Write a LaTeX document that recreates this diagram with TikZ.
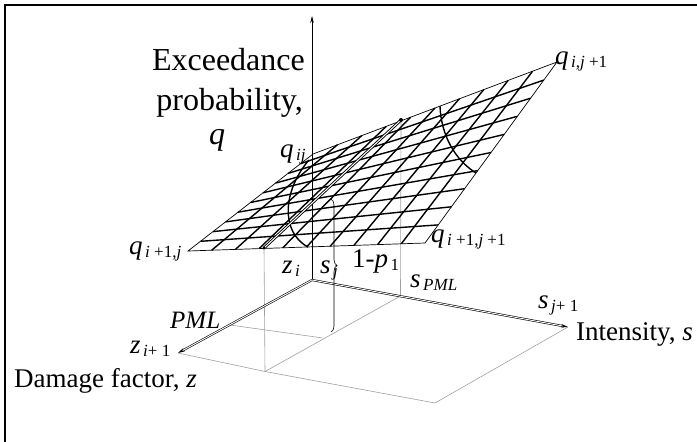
\documentclass[tikz,border=0pt]{standalone}
\usepackage{fontspec}
\setmainfont{Liberation Serif}
\usetikzlibrary{calc,arrows.meta,decorations.pathreplacing}
\newcommand{\lbl}[2]{\textit{#1}\hspace{2.5pt}\raisebox{-3pt}{\fontsize{17}{17}\selectfont #2}}
\begin{document}
\begin{tikzpicture}[x=1pt,y=-1pt,
  gl/.style={gray!75, line width=0.6pt},
  meshline/.style={line width=1.4pt, black},
  edgeline/.style={line width=0.7pt, black},
  dbl/.style={double=white, double distance=0.9pt, line width=0.6pt},
  dblgray/.style={draw=gray!80, double=white, double distance=1.2pt, line width=0.5pt},
  big/.style={font=\fontsize{32}{38}\selectfont, inner sep=0pt},
  lab/.style={font=\fontsize{27}{30}\selectfont, inner sep=0pt, anchor=base west},
  tip/.style={-{Stealth[length=7pt,width=3.5pt]}},
]
\useasboundingbox (0,0) rectangle (697,442);
\draw[line width=2.5pt] (5,442) -- (5,5) -- (697,5);

% key points
\coordinate (O) at (312,280);
\coordinate (Qtop) at (312,16);
\coordinate (Zt) at (178,353);
\coordinate (St) at (568,327);
\coordinate (B) at (265,371.5);
\coordinate (C) at (435,403);
\coordinate (P) at (400.5,296);
\coordinate (ZP) at (230,325);
\coordinate (D) at (323,338);
\coordinate (L) at (188,251);
\coordinate (R) at (425,243);
\coordinate (A) at (313,154);
\coordinate (Q2) at (557,62);
\coordinate (F) at (264,248);
\coordinate (T) at (401,120);
\coordinate (Dt) at (323,197);

% ground plane
\draw[gl] (Zt) -- (B) -- (C) -- (St);
\draw[gl] (ZP) -- (D);
\draw[gl] (B) -- (P);

% verticals
\draw[gl] (F) -- (B);
\draw[gl] (T) -- (P);
\draw[dblgray] (Dt) -- (D);

% axes
\draw[line width=0.6pt, tip] (O) -- (Qtop);
\draw[dbl, tip] (O) -- (Zt);
\draw[dbl, tip] (O) -- (St);

% mesh
\foreach \k in {1,...,9} {
  \draw[meshline] ($(L)!\k/10!(R)$) -- ($(A)!\k/10!(Q2)$);
  \draw[meshline] ($(L)!\k/10!(A)$) -- ($(R)!\k/10!(Q2)$);
}
\draw[edgeline] (L) -- (R) -- (Q2) -- (A) -- cycle;
\draw[meshline] (309,160) .. controls (283,190) and (280,232) .. (308,247);
\draw[meshline] (440,106) .. controls (441,135) and (455,160) .. (476,173);

% PML line on surface
\draw[double=white, double distance=1pt, line width=0.9pt] (F) -- (T);
\fill (T) circle (2);
\fill (F) circle (1.6);

% brace
\draw[decorate, decoration={brace, amplitude=6pt}, line width=0.6pt] (331,199) -- (331,332);

% labels
\node[big, anchor=base east] (ex) at (305,70) {Exceedance};
\node[big, anchor=base east] (pr) at (303,110) {probability,};
\node[big, anchor=base west] (qq) at (209,144) {\textit{q}};
\node[lab] (qij) at (280,157) {\lbl{q}{\textit{ij}}};
\node[lab] (qij1) at (555,64) {\lbl{q}{\textit{i,j} +1}};
\node[lab] (qi1j) at (129,254) {\lbl{q}{\textit{i} +1,\textit{j}}};
\node[lab] (qi1j1) at (431,242) {\lbl{q}{\textit{i} +1,\textit{j} +1}};
\node[lab] (zi) at (282,273) {\lbl{z}{\textit{i}}};
\node[lab] (sj) at (320,273) {\lbl{s}{\textit{j}}};
\node[lab] (p1) at (352,267) {1-\textit{p}\hspace{2.5pt}\raisebox{-3pt}{\fontsize{17}{17}\selectfont 1}};
\node[lab] (spml) at (410,287) {\lbl{s}{\textit{PML}}};
\node[lab] (sj1) at (538,308) {\lbl{s}{\textit{j}+ 1}};
\node[lab] (zi1) at (130,353) {\lbl{z}{\textit{i}+ 1}};
\node[lab, font=\fontsize{25}{28}\selectfont] (pml) at (170,328) {\textit{PML}};
\node[lab] (df) at (14,387) {Damage factor, \textit{z}};
\node[lab] (int) at (576,340) {Intensity, \textit{s}};
\end{tikzpicture}
\end{document}
